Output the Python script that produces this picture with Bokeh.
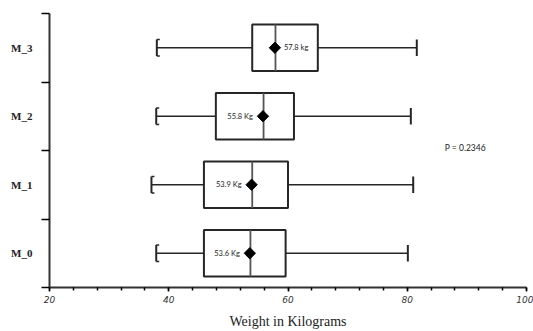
import math
from bokeh.plotting import figure
from bokeh.models import FixedTicker, ColumnDataSource, Label
from bokeh.core.properties import value
from bokeh.embed import file_html
from bokeh.resources import INLINE

categories = ["M_0", "M_1", "M_2", "M_3"]
whisker_low = [37.9, 37.1, 37.9, 38.0]
q1 = [45.9, 45.9, 47.9, 54.0]
median = [53.7, 54.0, 55.9, 57.9]
q3 = [59.6, 60.0, 61.0, 65.0]
whisker_high = [80.1, 81.0, 80.6, 81.6]
means = [53.6, 53.9, 55.8, 57.8]
mean_labels = ["53.6 Kg", "53.9 Kg", "55.8 Kg", "57.8 kg"]
x_ticks = [20, 40, 60, 80, 100]
p_text = "P = 0.2346"
x_title = "Weight in Kilograms"

ypos = [i + 0.5 for i in range(len(categories))]
box_half = 0.34
cap_half = 0.12
serif_len = 0.5

ink = "#262626"

p = figure(width=533, height=331, x_range=(20, 100), y_range=(0, len(categories)),
           output_backend="svg", toolbar_location=None,
           min_border_left=49, min_border_right=7, min_border_top=13, min_border_bottom=40)
p.outline_line_color = None
p.xgrid.visible = False
p.ygrid.visible = False
p.background_fill_color = "white"
p.border_fill_color = "white"

src = ColumnDataSource(dict(y=ypos, lo=whisker_low, q1=q1, med=median, q3=q3, hi=whisker_high,
                            mean=means, lab=mean_labels,
                            bot=[y - box_half for y in ypos], top=[y + box_half for y in ypos],
                            cbot=[y - cap_half for y in ypos], ctop=[y + cap_half for y in ypos],
                            lo2=[v + serif_len for v in whisker_low]))

# whiskers
p.segment(x0="lo", y0="y", x1="q1", y1="y", source=src, line_color=ink, line_width=1.6)
p.segment(x0="q3", y0="y", x1="hi", y1="y", source=src, line_color=ink, line_width=1.6)
# caps
p.segment(x0="lo", y0="cbot", x1="lo", y1="ctop", source=src, line_color=ink, line_width=2)
p.segment(x0="lo", y0="cbot", x1="lo2", y1="cbot", source=src, line_color=ink, line_width=1.5)
p.segment(x0="lo", y0="ctop", x1="lo2", y1="ctop", source=src, line_color=ink, line_width=1.5)
p.segment(x0="hi", y0="cbot", x1="hi", y1="ctop", source=src, line_color=ink, line_width=2)
# boxes
p.quad(left="q1", right="q3", bottom="bot", top="top", source=src,
       fill_color="white", line_color=ink, line_width=2)
# medians
p.segment(x0="med", y0="bot", x1="med", y1="top", source=src, line_color="#555555", line_width=1.8)
# means
p.scatter(x="mean", y="y", source=src, marker="square", angle=math.pi / 4, size=8,
          fill_color="black", line_color="black")

# mean labels
left_src = ColumnDataSource(dict(x=means[:3], y=ypos[:3], t=mean_labels[:3]))
right_src = ColumnDataSource(dict(x=means[3:], y=ypos[3:], t=mean_labels[3:]))
p.text(x="x", y="y", text="t", source=left_src, x_offset=-10, text_align="right",
       text_baseline="middle", text_font=value("Lato"), text_font_size="7.5px", text_color="#222222")
p.text(x="x", y="y", text="t", source=right_src, x_offset=9, text_align="left",
       text_baseline="middle", text_font=value("Lato"), text_font_size="7.5px", text_color="#222222")

p.add_layout(Label(x=86.3, y=2.04, text=p_text, text_font="Lato", text_font_size="8.5px",
                   text_baseline="middle", text_color="#222222"))

# x axis
xa = p.xaxis[0]
xa.ticker = FixedTicker(ticks=x_ticks, minor_ticks=list(range(20, 101, 4)))
xa.axis_line_width = 2
xa.axis_line_color = "#333333"
xa.major_tick_in = 0
xa.major_tick_out = 4
xa.major_tick_line_width = 1.5
xa.minor_tick_in = 0
xa.minor_tick_out = 3
xa.minor_tick_line_width = 1.5
xa.major_label_text_font = "DejaVu Sans"
xa.major_label_text_font_style = "italic"
xa.major_label_text_font_size = "9px"
xa.major_label_text_color = "#333333"
xa.major_label_standoff = 4
xa.axis_label = x_title
xa.axis_label_text_font = "Liberation Serif"
xa.axis_label_text_font_style = "normal"
xa.axis_label_text_font_size = "14px"
xa.axis_label_text_color = "#222222"
xa.axis_label_standoff = 8

# y axis
ya = p.yaxis[0]
ya.ticker = FixedTicker(ticks=ypos, minor_ticks=list(range(0, len(categories) + 1)))
ya.major_label_overrides = {y: c for y, c in zip(ypos, categories)}
ya.axis_line_width = 2
ya.axis_line_color = "#333333"
ya.major_tick_in = 0
ya.major_tick_out = 0
ya.minor_tick_in = 0
ya.minor_tick_out = 8
ya.minor_tick_line_width = 1.5
ya.major_label_text_font = "Liberation Serif"
ya.major_label_text_font_style = "bold"
ya.major_label_text_font_size = "11px"
ya.major_label_text_color = "#222222"
ya.major_label_standoff = 9

open("out.html", "w").write(file_html(p, INLINE))
